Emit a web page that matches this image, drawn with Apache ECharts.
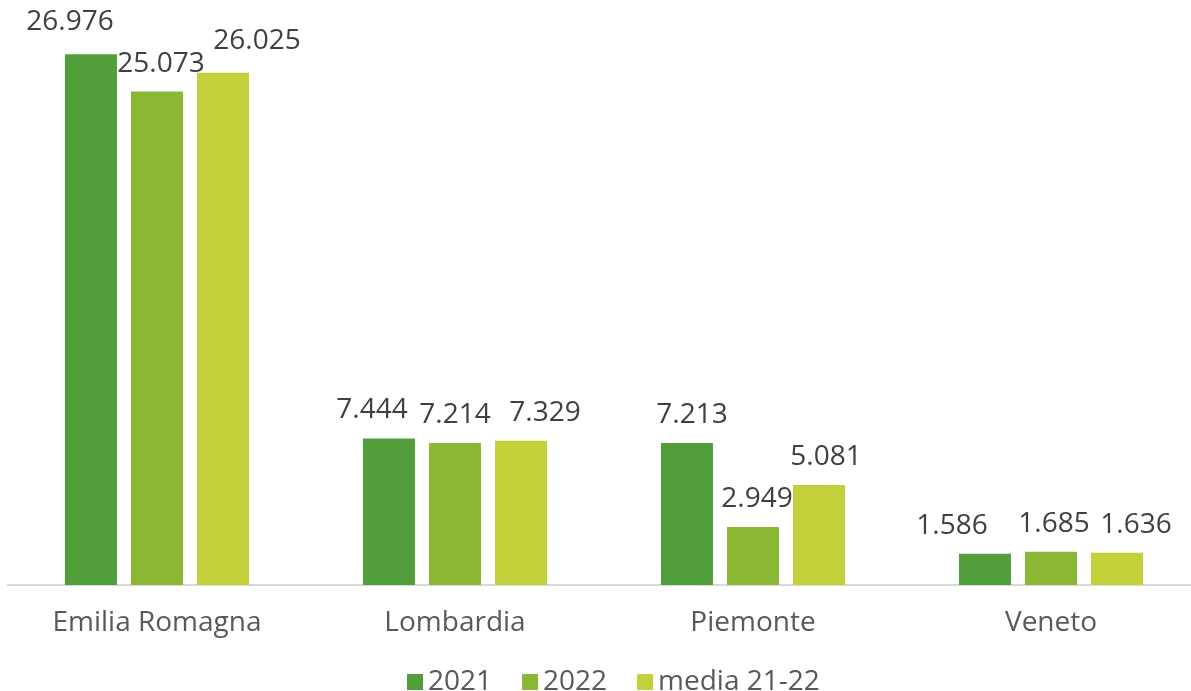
<!DOCTYPE html>
<html>
<head>
<meta charset="utf-8">
<script src="https://cdn.jsdelivr.net/npm/echarts@6/dist/echarts.min.js"></script>
<style>
  html, body { margin: 0; padding: 0; background: #fff; overflow: hidden; }
  #chart { width: 1210px; height: 691px; }
</style>
</head>
<body>
<div id="chart"></div>
<script>
// regioni e valori (migliaia separate da punto)
const regions = ['Emilia Romagna', 'Lombardia', 'Piemonte', 'Veneto']
const seriesNames = ['2021', '2022', 'media 21-22']
const values2021 = [26976, 7444, 7213, 1586]
const values2022 = [25073, 7214, 2949, 1685]
const valuesMedia = [26025, 7329, 5081, 1636]
const colors = ['#519e3a', '#8bb834', '#c2d13a']

// spostamento delle etichette come nell'originale [dx, dy]
const labelShift = [
  [[-21, -4], [4, 0], [34, -4]],
  [[-17, 0], [0, 0], [24, 0]],
  [[5, 0], [4, 0], [7, 0]],
  [[-33, 0], [3, 0], [19, 0]]
]

const fmt = (v) => String(v).replace(/\B(?=(\d{3})+(?!\d))/g, '.')

const fontFamily = '"Open Sans", sans-serif'

const makeSeries = (idx, data) => ({
  name: seriesNames[idx],
  type: 'bar',
  data: data.map((v, i) => ({
    value: v,
    label: { offset: labelShift[i][idx] }
  })),
  barWidth: 52,
  barGap: '27%',
  itemStyle: { color: colors[idx] },
  label: {
    show: true,
    position: 'top',
    distance: 14,
    color: '#404040',
    fontSize: 28,
    fontFamily: fontFamily,
    formatter: (p) => fmt(p.value)
  }
})

const chart = echarts.init(document.getElementById('chart'))
chart.setOption({
  animation: false,
  grid: { left: 8, top: 34, width: 1192, bottom: 106 },
  legend: {
    top: 663,
    left: 402,
    itemWidth: 16,
    itemHeight: 16,
    itemGap: 30,
    icon: 'rect',
    textStyle: { color: '#595959', fontSize: 28, fontFamily: fontFamily },
    data: seriesNames
  },
  xAxis: {
    type: 'category',
    data: regions,
    axisLine: { lineStyle: { color: '#d9d9d9', width: 2 } },
    axisTick: { show: false },
    axisLabel: { color: '#595959', fontSize: 28, fontFamily: fontFamily, margin: 24 }
  },
  yAxis: {
    type: 'value',
    min: 0,
    max: 28000,
    show: false,
    splitLine: { show: false }
  },
  series: [
    makeSeries(0, values2021),
    makeSeries(1, values2022),
    makeSeries(2, valuesMedia)
  ]
})
</script>
</body>
</html>
